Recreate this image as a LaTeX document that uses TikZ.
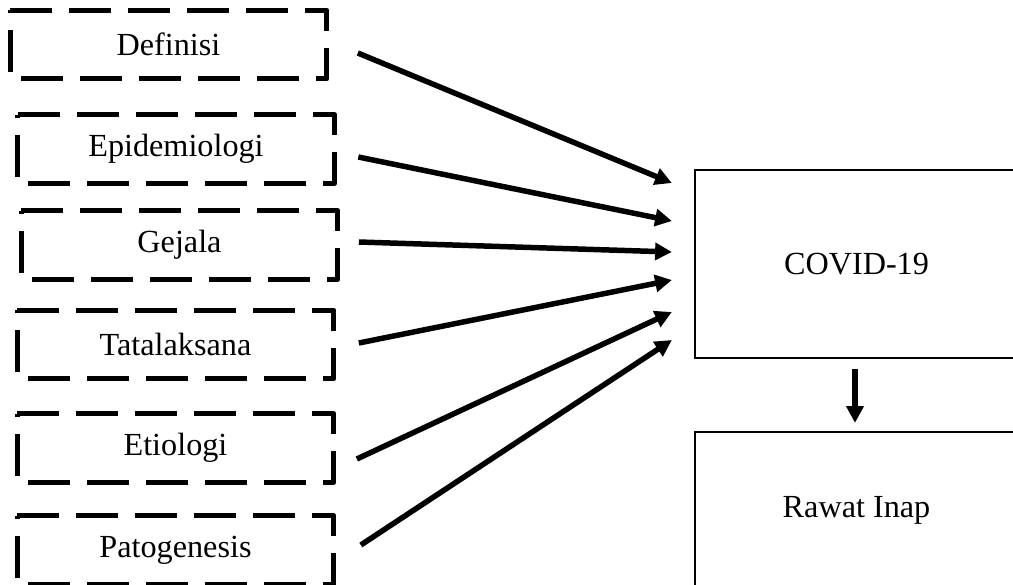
\documentclass[tikz,border=0pt]{standalone}
\usepackage{fontspec}
\setmainfont{Liberation Serif}
\usetikzlibrary{arrows.meta,positioning}
\tikzset{
    topic/.style={minimum width=7.9cm,minimum height=1.7cm,inner sep=0pt,align=center},
    dashline/.style={line width=3.7pt,line join=round,dash pattern=on 1.05cm off 0.425cm},
    mainbox/.style={draw,line width=1.5pt,minimum width=8.075cm,inner sep=0pt,align=center},
    arr/.style={line width=3.9pt,-{Triangle[length=0.42cm,width=0.42cm]}}
}

\begin{document}
\begin{tikzpicture}[x=0.025cm,y=-0.025cm,font=\fontsize{22.9}{27}\selectfont]

    \def\xTopics{176}
    \def\xMain{856.5}
    \def\yDef{44.5}
    \def\yEpi{149}
    \def\yGej{245}
    \def\yTata{344.5}
    \def\yEtio{448}
    \def\yPato{550}
    \def\yCovid{264}
    \def\yRawat{510}

    \clip (0,0) rectangle (1013,585);

    \node [topic] at (168.5,\yDef) (definisi) {Definisi};
    \node [topic] at (\xTopics,\yEpi) (epidemiologi) {Epidemiologi};
    \node [topic] at (179.5,\yGej) (gejala) {Gejala};
    \node [topic] at (175.5,\yTata) (tatalaksana) {Tatalaksana};
    \node [topic] at (175.5,\yEtio) (etiologi) {Etiologi};
    \node [topic] at (175.5,\yPato) (patogenesis) {Patogenesis};

    \node [mainbox,minimum height=4.7cm] at (\xMain,\yCovid) (covid) {COVID-19};
    \node [mainbox,minimum height=3.9cm] at (\xMain,\yRawat) (rawat) {Rawat Inap};

    % dashed outlines, drawn clockwise from the top left corner
    \foreach \n in {definisi,epidemiologi,gejala,tatalaksana,etiologi,patogenesis}
        \draw[dashline] (\n.north west) -| (\n.south east) -| (\n.north west);

    \foreach \n/\sx/\sy/\ty in {definisi/31/8.5/-81,epidemiologi/24/8/-43,gejala/21/-3/-12,
                                tatalaksana/25/-1.5/16,etiologi/23/11/48,patogenesis/27/-5/76}
        \draw[arr] ([shift={(\sx,\sy)}]\n.east) -- ([shift={(-22,\ty)}]covid.west);

    \draw[arr] ([shift={(-1.5,10)}]covid.south) -- ([shift={(-1.5,-8)}]rawat.north);

\end{tikzpicture}
\end{document}
